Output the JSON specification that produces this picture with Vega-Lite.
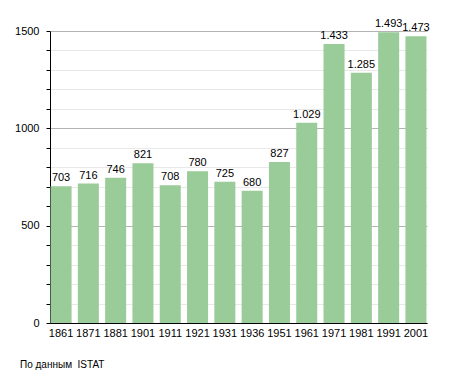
{
  "$schema": "https://vega.github.io/schema/vega-lite/v6.json",
  "width": 377,
  "height": 292,
  "autosize": {"type": "none"},
  "padding": {"left": 50, "top": 31, "right": 28, "bottom": 50},
  "config": {
    "locale": {"number": {"decimal": ",", "thousands": ".", "grouping": [3], "currency": ["€", ""]}},
    "view": {"stroke": null},
    "font": "Liberation Sans"
  },
  "title": {
    "text": "По данным \u00a0ISTAT",
    "orient": "bottom",
    "anchor": "start",
    "frame": "group",
    "dx": -30,
    "offset": 22,
    "fontSize": 10,
    "fontWeight": "normal",
    "color": "#000000",
    "font": "Liberation Sans"
  },
  "data": {
    "values": [
      {"year": "1861", "pop": 703},
      {"year": "1871", "pop": 716},
      {"year": "1881", "pop": 746},
      {"year": "1901", "pop": 821},
      {"year": "1911", "pop": 708},
      {"year": "1921", "pop": 780},
      {"year": "1931", "pop": 725},
      {"year": "1936", "pop": 680},
      {"year": "1951", "pop": 827},
      {"year": "1961", "pop": 1029},
      {"year": "1971", "pop": 1433},
      {"year": "1981", "pop": 1285},
      {"year": "1991", "pop": 1493},
      {"year": "2001", "pop": 1473}
    ]
  },
  "encoding": {
    "x": {
      "field": "year",
      "type": "ordinal",
      "sort": null,
      "scale": {"paddingInner": 0.23, "paddingOuter": 0.02},
      "axis": {
        "title": null,
        "labelAngle": 0,
        "ticks": false,
        "labelPadding": 4,
        "labelFontSize": 11,
        "labelColor": "#000000",
        "domainColor": "#000000",
        "domainWidth": 1
      }
    },
    "y": {
      "field": "pop",
      "type": "quantitative",
      "scale": {"domain": [0, 1500], "nice": false},
      "axis": {
        "title": null,
        "values": [0, 100, 200, 300, 400, 500, 600, 700, 800, 900, 1000, 1100, 1200, 1300, 1400, 1500],
        "labelExpr": "datum.value % 500 === 0 ? datum.value : ''",
        "grid": true,
        "gridColor": {"condition": {"test": "datum.value % 500 === 0", "value": "#b4b4b4"}, "value": "#e8e8e8"},
        "tickColor": "#000000",
        "tickSize": 4,
        "labelPadding": 7,
        "labelFontSize": 11,
        "labelColor": "#000000",
        "domainColor": "#000000",
        "domainWidth": 1
      }
    }
  },
  "layer": [
    {"mark": {"type": "bar", "color": "#99cc99"}},
    {
      "mark": {"type": "text", "baseline": "bottom", "dy": -3, "fontSize": 11, "color": "#000000"},
      "encoding": {"text": {"field": "pop", "type": "quantitative", "format": ",d"}}
    }
  ]
}
